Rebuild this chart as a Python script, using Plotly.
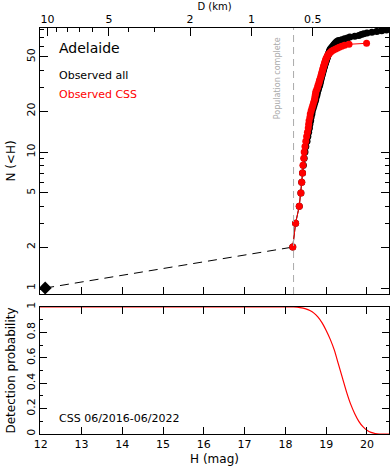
import plotly.graph_objects as go
import numpy as np

# cumulative H distribution
h_all = [18.18, 18.25, 18.34, 18.38, 18.40, 18.42, 18.44, 18.46, 18.48, 18.50,
         18.53, 18.55, 18.57, 18.59, 18.60, 18.62, 18.63, 18.65, 18.66, 18.68,
         18.70, 18.72, 18.74, 18.75, 18.77, 18.78, 18.79, 18.81, 18.82, 18.84,
         18.85, 18.86, 18.87, 18.88, 18.89, 18.90, 18.91, 18.92, 18.93, 18.94,
         18.95, 18.96, 18.97, 18.98, 18.99, 19.00, 19.01, 19.02, 19.03, 19.04,
         19.05, 19.06, 19.07, 19.08, 19.09, 19.10, 19.12, 19.14, 19.16, 19.18,
         19.20, 19.22, 19.24, 19.26, 19.30, 19.38, 19.45, 19.52, 19.58, 19.70,
         19.80, 19.86, 19.92, 20.00, 20.12, 20.24, 20.36, 20.48]
n_all = [2, 3, 4, 5, 6, 7, 8, 9, 10, 11, 12, 13, 14, 15, 16, 17, 18, 19, 20, 21,
         22, 23, 24, 25, 26, 27, 28, 29, 30, 31, 32, 33, 34, 35, 36, 37, 38, 39, 40,
         41, 42, 43, 44, 45, 46, 47, 48, 49, 50, 51, 52, 53, 54, 55, 56, 57, 58, 59,
         60, 61, 62, 63, 64, 65, 66, 67, 68, 69, 70, 71, 72, 73, 74, 75, 76, 77, 78, 79]

h_css = [18.18, 18.25, 18.34, 18.38, 18.40, 18.42, 18.43, 18.45, 18.46, 18.48,
         18.50, 18.52, 18.54, 18.56, 18.57, 18.58, 18.60, 18.61, 18.63, 18.65,
         18.67, 18.69, 18.71, 18.72, 18.73, 18.74, 18.75, 18.77, 18.79, 18.80,
         18.82, 18.83, 18.84, 18.86, 18.87, 18.88, 18.89, 18.90, 18.91, 18.92,
         18.93, 18.94, 18.95, 18.96, 18.97, 18.98, 18.99, 19.00, 19.02, 19.03,
         19.05, 19.07, 19.10, 19.13, 19.17, 19.22, 19.27, 19.32, 19.38, 19.45,
         19.56, 19.99]
n_css = [2, 3, 4, 5, 6, 7, 8, 9, 10, 11, 12, 13, 14, 15, 16, 17, 18, 19, 20, 21,
         22, 23, 24, 25, 26, 27, 28, 29, 30, 31, 32, 33, 34, 35, 36, 37, 38, 39, 40,
         41, 42, 43, 44, 45, 46, 47, 48, 49, 50, 51, 52, 53, 54, 55, 56, 57, 58, 59,
         60, 61, 62, 63]

# the largest member and the link to the complete part
h_big = [12.11]
n_big = [1]
h_link = [12.11, 18.18]
n_link = [1, 2]
h_complete = 18.2

# CSS detection probability
h_prob = [11.98, 13.0, 15.0, 17.0, 18.0, 18.2, 18.36, 18.5, 18.6, 18.7, 18.8,
          18.9, 19.0, 19.1, 19.2, 19.3, 19.4, 19.5, 19.6, 19.7, 19.8, 19.9,
          20.0, 20.1, 20.2, 20.3, 20.54]
p_prob = [1.0, 1.0, 1.0, 1.0, 1.0, 1.0, 0.995, 0.985, 0.972, 0.952, 0.92,
          0.875, 0.815, 0.745, 0.66, 0.55, 0.44, 0.33, 0.235, 0.16, 0.10, 0.058,
          0.03, 0.013, 0.004, 0.0, 0.0]

# top axis: diameter labels (albedo ~0.24)
d_major = [10, 5, 2, 1, 0.5]
d_minor = [9, 8, 7, 6, 4, 3]


def h_from_d(d, p=0.24):
    return 5 * np.log10(1329 / (d * np.sqrt(p)))


FONT = "DejaVu Sans"
xr = [11.983, 20.54]

fig = go.Figure()
fig.add_trace(go.Scatter(x=h_link, y=n_link, mode="lines",
                         line=dict(color="black", width=1, dash="9px,6px"),
                         xaxis="x", yaxis="y"))
fig.add_trace(go.Scatter(x=h_all, y=n_all, mode="lines+markers",
                         line=dict(color="black", width=1),
                         marker=dict(color="black", size=7),
                         xaxis="x", yaxis="y"))
fig.add_trace(go.Scatter(x=h_css, y=n_css, mode="lines+markers",
                         line=dict(color="red", width=1),
                         marker=dict(color="red", size=7),
                         xaxis="x", yaxis="y"))
fig.add_trace(go.Scatter(x=h_big, y=n_big, mode="markers",
                         marker=dict(color="black", size=10, symbol="diamond"),
                         xaxis="x", yaxis="y"))
# invisible trace so the diameter axis on top gets drawn
fig.add_trace(go.Scatter(x=h_big, y=n_big, mode="markers", opacity=0,
                         hoverinfo="skip", xaxis="x3", yaxis="y"))
fig.add_trace(go.Scatter(x=h_prob, y=p_prob, mode="lines",
                         line=dict(color="red", width=1.2, shape="spline", smoothing=0.6),
                         xaxis="x2", yaxis="y2"))

axis_common = dict(showline=True, linecolor="black", linewidth=1, ticks="inside",
                   tickcolor="black", showgrid=False, zeroline=False,
                   tickfont=dict(family=FONT, size=11, color="black"))

fig.update_layout(
    width=390, height=468,
    margin=dict(l=40, r=1, t=28, b=34),
    plot_bgcolor="white", paper_bgcolor="white",
    showlegend=False,
    xaxis=dict(axis_common, range=xr, anchor="y", dtick=1, tick0=12, ticklen=7,
               showticklabels=False, domain=[0, 1]),
    yaxis=dict(axis_common, type="log", range=[-0.044, 1.912], domain=[0.3448, 1],
               anchor="x", tickvals=[1, 2, 5, 10, 20, 50], ticktext=["1", "2", "5", "10", "20", "50"],
               ticklen=8, tickangle=-90, mirror="ticks",
               minor=dict(tickvals=[3, 4, 6, 7, 8, 9, 30, 40, 60, 70, 80], ticklen=4,
                          ticks="inside", tickcolor="black"),
               title=dict(text="N (<H)", font=dict(family=FONT, size=12, color="black"),
                          standoff=6)),
    xaxis3=dict(axis_common, range=xr, overlaying="x", side="top", anchor="y",
                tickvals=[h_from_d(d) for d in d_major],
                ticktext=[str(d) for d in d_major], ticklen=8,
                minor=dict(tickvals=[h_from_d(d) for d in d_minor], ticklen=4,
                           ticks="inside", tickcolor="black"),
                title=dict(text="D (km)", font=dict(family=FONT, size=10, color="black"),
                           standoff=0)),
    xaxis2=dict(axis_common, range=xr, anchor="y2", dtick=1, tick0=12, ticklen=7,
                mirror="ticks", domain=[0, 1],
                title=dict(text="H (mag)", font=dict(family=FONT, size=12, color="black"),
                           standoff=4)),
    yaxis2=dict(axis_common, range=[0, 1], domain=[0, 0.3128], anchor="x2",
                tickvals=[0, 0.2, 0.4, 0.6, 0.8, 1], ticktext=["0", "0.2", "0.4", "0.6", "0.8", "1"],
                ticklen=7, tickangle=-90, mirror="ticks",
                minor=dict(tickvals=[0.1, 0.3, 0.5, 0.7, 0.9], ticklen=3,
                           ticks="inside", tickcolor="black"),
                title=dict(text="Detection probability",
                           font=dict(family=FONT, size=12, color="black"), standoff=6)),
)

fig.add_shape(type="line", xref="x", yref="y domain", x0=h_complete, x1=h_complete,
              y0=0, y1=1, line=dict(color="#aaaaaa", width=1, dash="7px,5px"))

fig.add_annotation(x=h_complete - 0.40, y=0.812, xref="x", yref="y domain",
                   xanchor="center", yanchor="middle",
                   text="Population complete", textangle=-90, showarrow=False,
                   font=dict(family=FONT, size=8, color="#aaaaaa"))
fig.add_annotation(x=0.05, y=0.951, xref="paper", yref="paper", xanchor="left",
                   yanchor="middle", text="Adelaide", showarrow=False,
                   font=dict(family=FONT, size=14, color="black"))
fig.add_annotation(x=0.05, y=0.882, xref="paper", yref="paper", xanchor="left",
                   yanchor="middle", text="Observed all", showarrow=False,
                   font=dict(family=FONT, size=11, color="black"))
fig.add_annotation(x=0.05, y=0.835, xref="paper", yref="paper", xanchor="left",
                   yanchor="middle", text="Observed CSS", showarrow=False,
                   font=dict(family=FONT, size=11, color="red"))
fig.add_annotation(x=0.05, y=0.039, xref="paper", yref="paper", xanchor="left",
                   yanchor="middle", text="CSS 06/2016-06/2022", showarrow=False,
                   font=dict(family=FONT, size=11, color="black"))

# page has a default body margin; drop it so the figure fills the window
fig.write_html("out.html", config={"displayModeBar": False},
               post_script="document.body.style.margin='0';")
